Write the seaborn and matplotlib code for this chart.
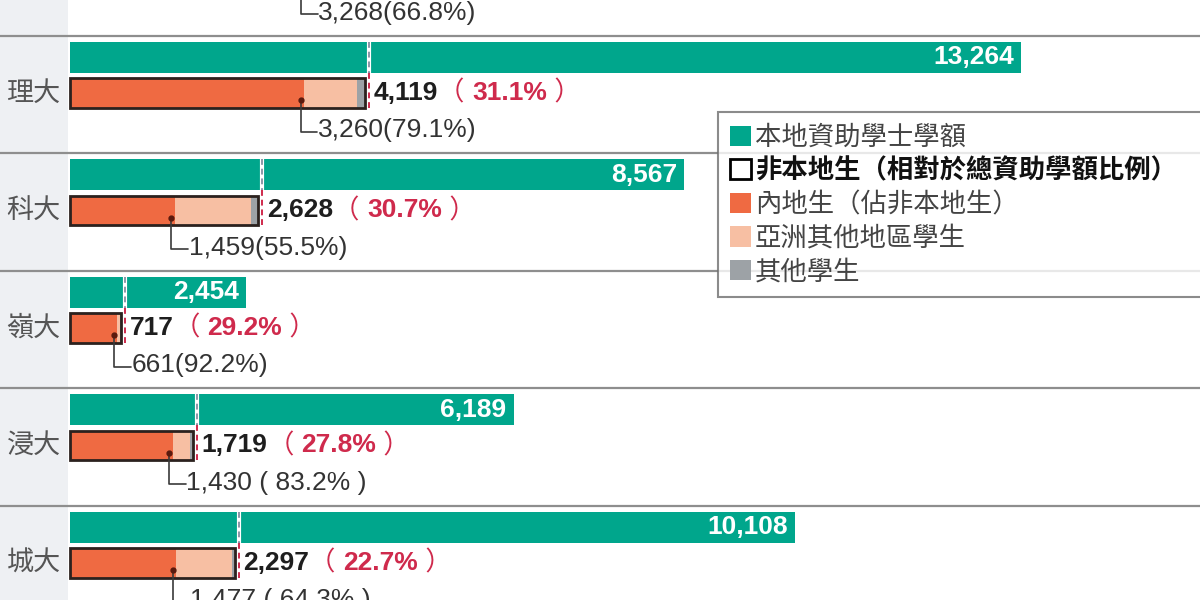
import numpy as np
import pandas as pd
import matplotlib
matplotlib.use("Agg")
import matplotlib.pyplot as plt
import seaborn as sns
from matplotlib.patches import Patch

# ------------------------------------------ data ------------------------------------------ #
schools = ["中大", "理大", "科大", "嶺大", "浸大", "城大"]
local_places = [15000, 13264, 8567, 2454, 6189, 10108]
non_local = [4892, 4119, 2628, 717, 1719, 2297]
non_local_pct = ["32.6%", "31.1%", "30.7%", "29.2%", "27.8%", "22.7%"]
mainland = [3268, 3260, 1459, 661, 1430, 1477]
mainland_labels = ["3,268(66.8%)", "3,260(79.1%)", "1,459(55.5%)", "661(92.2%)",
                   "1,430 ( 83.2% )", "1,477 ( 64.3% )"]
other_asia = [1400, 745, 1060, 40, 240, 780]

legend_labels = ["本地資助學士學額", "非本地生（相對於總資助學額比例）", "內地生（佔非本地生）",
                 "亞洲其他地區學生", "其他學生"]

GREEN = "#00A68C"
ORANGE = "#EF6A42"
PEACH = "#F7BFA3"
GREY = "#9DA2A6"
RED = "#CF2A4C"
DARK = "#2B211E"

df = pd.DataFrame({"school": schools, "local": local_places, "non_local": non_local,
                   "mainland": mainland, "other_asia": other_asia})
df["pos"] = np.arange(len(df), dtype=float)
df["green_pos"] = df["pos"] - 0.306
df["asia_cum"] = df["mainland"] + df["other_asia"]

sns.set_theme(style="white")
plt.rcParams["font.family"] = ["Liberation Sans", "Noto Sans CJK TC", "DejaVu Sans"]

fig = plt.figure(figsize=(12, 6), dpi=100)
ax = fig.add_axes([0, 0, 1, 1])

XMIN, XMAX = -976, 15760
YBOT, YTOP = 5.315, 0.2085

# left label panel
ax.axvspan(XMIN, -25, color="#EEF0F3", zorder=0, lw=0)

# row separators
ax.hlines(df["pos"] - 0.489, XMIN, XMAX, color="#8E8E8E", lw=1.6, zorder=1)

# bars
common = dict(orient="y", native_scale=True, errorbar=None, saturation=1, ax=ax)
sns.barplot(data=df, x="local", y="green_pos", width=0.264, color=GREEN, linewidth=0, **common)
sns.barplot(data=df, x="non_local", y="pos", width=0.25, color=GREY, linewidth=0, **common)
sns.barplot(data=df, x="asia_cum", y="pos", width=0.25, color=PEACH, linewidth=0, **common)
sns.barplot(data=df, x="mainland", y="pos", width=0.25, color=ORANGE, linewidth=0, **common)
sns.barplot(data=df, x="non_local", y="pos", width=0.25, color=DARK, fill=False, linewidth=2, **common)

for i, row in df.iterrows():
    p = row["pos"]
    g = row["green_pos"]
    # dashed markers at the non-local total
    xd = row["non_local"] + 55
    ax.vlines(xd, g - 0.132, g + 0.132, color="white", lw=3, zorder=4)
    ax.vlines(xd, g - 0.132, g + 0.132, color="#8C97A8", lw=1.4, linestyles=(0, (3, 2)), zorder=5)
    ax.vlines(xd, g + 0.132, p + 0.14, color=RED, lw=1.4, linestyles=(0, (3, 2)), zorder=5)
    # mainland callout
    m = row["mainland"] - 45
    ax.plot([m, m, m + 230], [p + 0.06, p + 0.33, p + 0.33], color="#3A3A3A", lw=1.2, zorder=5)
    ax.plot(m, p + 0.06, "o", ms=3.5, color="#5A1A0E", zorder=6)
    ax.text(m + 240, p + 0.315, mainland_labels[i], ha="left", va="center",
            color="#333333", fontsize=19, zorder=5)
    if p < YTOP:
        # this row's bars sit above the visible area; only its callout shows
        continue
    # value inside green bar
    ax.text(row["local"] - 100, g, f"{int(row['local']):,}", ha="right", va="center",
            color="white", fontsize=19, fontweight="bold", zorder=5)
    # non-local total and share
    t1 = ax.text(row["non_local"] + 120, p, f"{int(row['non_local']):,}", ha="left", va="center",
                 color="#1E1E1E", fontsize=19, fontweight="bold", zorder=5)
    t2 = ax.annotate("（ ", xy=(1, 0.5), xycoords=t1, ha="left", va="center", color=RED, fontsize=19)
    t3 = ax.annotate(non_local_pct[i], xy=(1, 0.5), xycoords=t2, ha="left", va="center",
                     color=RED, fontsize=19, fontweight="bold")
    ax.annotate(" ）", xy=(1, 0.5), xycoords=t3, ha="left", va="center", color=RED, fontsize=19)
    # school label
    ax.text(0.028, p, row["school"], transform=ax.get_yaxis_transform(), ha="center", va="center",
            color="#555555", fontsize=19.5, family=["Noto Sans CJK TC"])

handles = [Patch(facecolor=GREEN, edgecolor="none"),
           Patch(facecolor="white", edgecolor="black", linewidth=2),
           Patch(facecolor=ORANGE, edgecolor="none"),
           Patch(facecolor=PEACH, edgecolor="none"),
           Patch(facecolor=GREY, edgecolor="none")]
leg = ax.legend(handles, legend_labels, loc="upper left",
                bbox_to_anchor=(718 / 1200, 1 - 112 / 600, 0.45, 0), mode="expand",
                borderaxespad=0, handlelength=0.8, handleheight=0.8, handletextpad=0.15,
                labelspacing=0.25, borderpad=0.45, frameon=True, fancybox=False,
                prop={"family": ["Noto Sans CJK TC"], "size": 19})
leg.get_frame().set_edgecolor("#6E6E6E")
leg.get_frame().set_linewidth(1.5)
for t in leg.get_texts():
    t.set_color("#444444")
leg.get_texts()[1].set_fontweight("bold")
leg.get_texts()[1].set_color("#111111")

ax.set_xlim(XMIN, XMAX)
ax.set_ylim(YBOT, YTOP)
ax.set_axis_off()

fig.savefig("out.png", dpi=100)
